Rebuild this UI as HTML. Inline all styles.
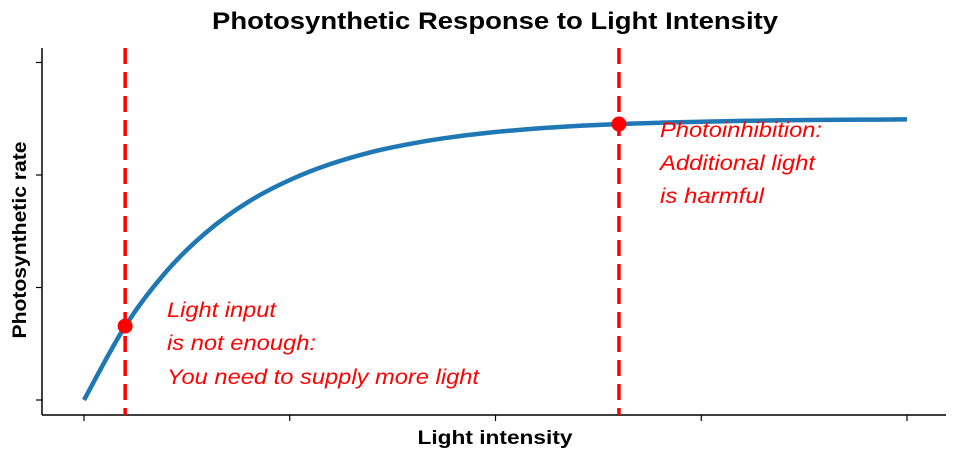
<!DOCTYPE html>
<html><head><meta charset="utf-8"><style>
html,body{margin:0;padding:0;background:#fff;}
svg{display:block;font-family:"Liberation Sans",sans-serif;}
</style></head><body>
<svg id="chart" width="960" height="459">
<text x="495" y="29" text-anchor="middle" font-size="24" font-weight="bold" textLength="566" lengthAdjust="spacingAndGlyphs">Photosynthetic Response to Light Intensity</text>
<text transform="translate(26,240) rotate(-90)" text-anchor="middle" font-size="19" font-weight="bold" textLength="197" lengthAdjust="spacingAndGlyphs">Photosynthetic rate</text>
<text x="495" y="444" text-anchor="middle" font-size="19" font-weight="bold" textLength="155" lengthAdjust="spacingAndGlyphs">Light intensity</text>
<line x1="42" y1="48" x2="42" y2="415" stroke="#000" stroke-width="1.5"/>
<line x1="42" y1="415" x2="946" y2="415" stroke="#000" stroke-width="1.5"/>
<g id="ticks"></g>
<g id="marks"></g>
<g fill="#ff0000" font-size="21" font-style="italic">
<text x="167" y="317" textLength="109" lengthAdjust="spacingAndGlyphs">Light input</text>
<text x="167" y="350" textLength="149" lengthAdjust="spacingAndGlyphs">is not enough:</text>
<text x="167" y="384" textLength="312" lengthAdjust="spacingAndGlyphs">You need to supply more light</text>
</g>
<g fill="#ff0000" font-size="21" font-style="italic">
<text x="660" y="137" textLength="162" lengthAdjust="spacingAndGlyphs">Photoinhibition:</text>
<text x="660" y="170" textLength="155" lengthAdjust="spacingAndGlyphs">Additional light</text>
<text x="660" y="203" textLength="104" lengthAdjust="spacingAndGlyphs">is harmful</text>
</g>
</svg>
<script>
const xValues = [0,0.05,0.1,0.15,0.2,0.25,0.3,0.35,0.4,0.45,0.5,0.55,0.6,0.65,0.7,0.75,0.8,0.85,0.9,0.95,1.0];
const rateValues = [0,0.657,1.142,1.499,1.763,1.956,2.099,2.205,2.282,2.340,2.382,2.413,2.436,2.453,2.465,2.474,2.481,2.486,2.490,2.492,2.494];
const xTicks = [0,0.25,0.5,0.75,1];
const yTicks = [0,1,2,3];
const markerX = [0.05,0.65];
const markerY = [0.657,2.453];

const NS = "http://www.w3.org/2000/svg";
function sx(v){return 84 + v*823;}
function sy(v){return 400 - v*112.5;}
function mk(tag, attrs, parent){const e=document.createElementNS(NS,tag);for(const k in attrs)e.setAttribute(k,attrs[k]);parent.appendChild(e);return e;}
const ticks=document.getElementById('ticks');
const marks=document.getElementById('marks');
xTicks.forEach(t=>{
  const l=mk('line',{x1:sx(t),x2:sx(t),y1:415,y2:421,stroke:'#000','stroke-width':1.2},ticks);
  
  
});
yTicks.forEach(t=>{
  const l=mk('line',{x1:36,x2:42,y1:sy(t),y2:sy(t),stroke:'#000','stroke-width':1.2},ticks);
  
  
});
markerX.forEach(v=>{
  const l=mk('line',{x1:sx(v),x2:sx(v),y1:48,y2:415,stroke:'#ff0000','stroke-width':3.5,'stroke-dasharray':'16 8'},marks);
  
  
});
const pts=xValues.map((x,i)=>[sx(x),sy(rateValues[i])]);
let d='M'+pts[0][0].toFixed(1)+','+pts[0][1].toFixed(1);
for(let i=0;i<pts.length-1;i++){
  const p0=pts[Math.max(i-1,0)],p1=pts[i],p2=pts[i+1],p3=pts[Math.min(i+2,pts.length-1)];
  const c1=[p1[0]+(p2[0]-p0[0])/6,p1[1]+(p2[1]-p0[1])/6];
  const c2=[p2[0]-(p3[0]-p1[0])/6,p2[1]-(p3[1]-p1[1])/6];
  d+=' C'+c1.map(v=>v.toFixed(1)).join(',')+' '+c2.map(v=>v.toFixed(1)).join(',')+' '+p2.map(v=>v.toFixed(1)).join(',');
}
const p=mk('path',{d:d,fill:'none',stroke:'#1f77b4','stroke-width':4.5,'stroke-linejoin':'round'},marks);


markerX.forEach((v,i)=>{
  const c=mk('circle',{cx:sx(v),cy:sy(markerY[i]),r:7.5,fill:'#ff0000'},marks);
  
  
});
</script>
</body></html>
